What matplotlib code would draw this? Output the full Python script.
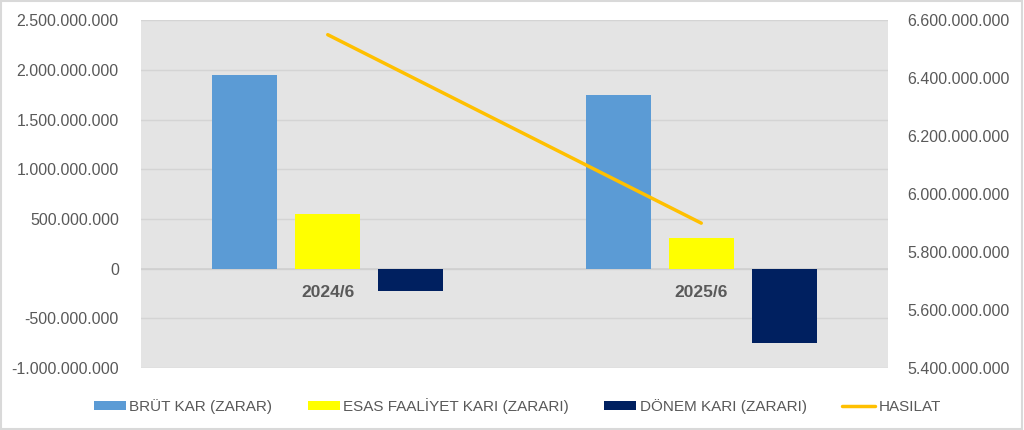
import matplotlib
matplotlib.use("Agg")
import matplotlib.pyplot as plt
import numpy as np
from matplotlib.ticker import FuncFormatter

categories = ["2024/6", "2025/6"]

# Bar series (left axis)
brut_kar = [1950000000, 1745000000]
esas_faaliyet = [548000000, 305000000]
donem_kari = [-225000000, -750000000]

# Line series (right axis)
hasilat = [6550000000, 5900000000]

bar_labels = ["BRÜT KAR (ZARAR)", "ESAS FAALİYET KARI (ZARARI)", "DÖNEM KARI (ZARARI)"]
line_label = "HASILAT"

bar_colors = ["#5B9BD5", "#FFFF00", "#002060"]
line_color = "#FFC000"
text_color = "#595959"

plt.rcParams["font.family"] = ["Liberation Sans", "DejaVu Sans"]


def dot_thousands(v, pos):
    s = f"{abs(v):,.0f}".replace(",", ".")
    return ("-" if v < 0 else "") + s


fig = plt.figure(figsize=(10.24, 4.3), dpi=100)
fig.patch.set_facecolor("white")
ax = fig.add_axes([0.1377, 0.144, 0.7295, 0.809])
ax.set_facecolor("#E4E4E4")

x = np.arange(len(categories))
width = 0.174
step = 0.222
handles = []
for i, (vals, col, lab) in enumerate(zip([brut_kar, esas_faaliyet, donem_kari], bar_colors, bar_labels)):
    h = ax.bar(x + (i - 1) * step, vals, width, color=col, label=lab, zorder=3)
    handles.append(h)

ax.set_xlim(-0.5, 1.5)
ax.set_ylim(-1000000000, 2500000000)
ax.set_yticks(np.arange(-1000000000, 2500000001, 500000000))
ax.yaxis.set_major_formatter(FuncFormatter(dot_thousands))
ax.grid(axis="y", color="#D4D4D4", linewidth=1, zorder=0)
ax.axhline(0, color="#D0D0D0", linewidth=1.2, zorder=2)
ax.set_xticks([])
for s in ax.spines.values():
    s.set_visible(False)
ax.tick_params(axis="y", length=0, labelsize=11.5, labelcolor=text_color, pad=16)

for xi, cat in zip(x, categories):
    ax.text(xi, -240000000, cat, ha="center", va="center", fontsize=12.5,
            color=text_color, zorder=4, fontweight="bold")

ax2 = ax.twinx()
ln, = ax2.plot(x, hasilat, color=line_color, linewidth=2.5, label=line_label,
               solid_capstyle="round", zorder=5)
ax2.set_ylim(5400000000, 6600000000)
ax2.set_yticks(np.arange(5400000000, 6600000001, 200000000))
ax2.yaxis.set_major_formatter(FuncFormatter(dot_thousands))
for s in ax2.spines.values():
    s.set_visible(False)
ax2.tick_params(axis="y", length=0, labelsize=11.5, labelcolor=text_color, pad=14)

leg = fig.legend(handles + [ln], bar_labels + [line_label], loc="lower center",
                 bbox_to_anchor=(0.505, 0.005), ncol=4, frameon=False,
                 fontsize=11, handlelength=2.1, handleheight=0.55,
                 columnspacing=2.3, handletextpad=0.25)
for t in leg.get_texts():
    t.set_color(text_color)

# light outer border like the exported chart
fig.patches.append(plt.Rectangle((0.001, 0.002), 0.997, 0.995, transform=fig.transFigure,
                                 fill=False, edgecolor="#D9D9D9", linewidth=1.5))

fig.savefig("out.png", dpi=100, facecolor="white")
